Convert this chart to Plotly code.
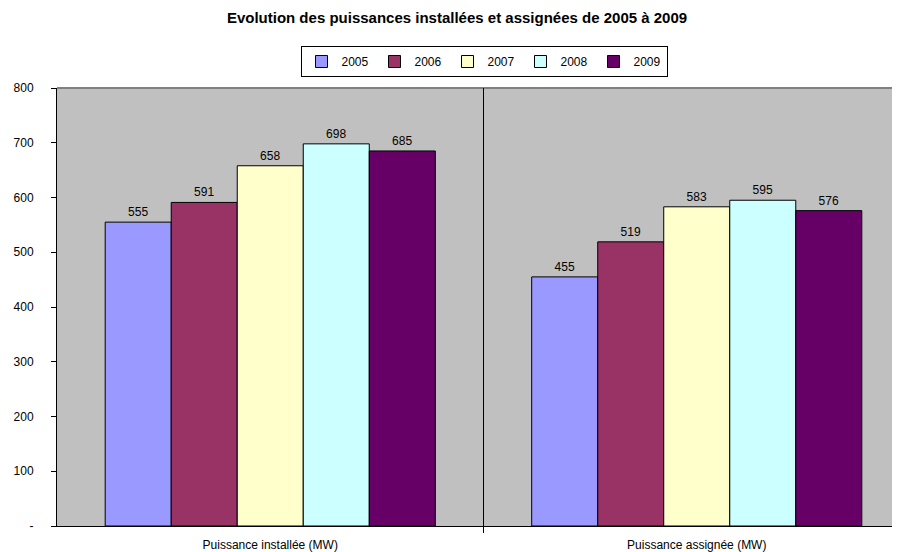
import plotly.graph_objects as go

categories = ["Puissance installée (MW)", "Puissance assignée (MW)"]
years = ["2005", "2006", "2007", "2008", "2009"]
values = {
    "2005": [555, 455],
    "2006": [591, 519],
    "2007": [658, 583],
    "2008": [698, 595],
    "2009": [685, 576],
}
colors = ["#9999FF", "#993366", "#FFFFCC", "#CCFFFF", "#660066"]
tick_vals = [0, 100, 200, 300, 400, 500, 600, 700, 800]
tick_text = ["-", "100", "200", "300", "400", "500", "600", "700", "800"]

FONT = "Liberation Sans, Arial, sans-serif"
OFF = 8  # page body margin offset

fig = go.Figure()
for yr, col in zip(years, colors):
    fig.add_trace(go.Bar(
        name=yr, x=[0, 1], y=values[yr],
        marker=dict(color=col, line=dict(color="black", width=1)),
        text=[str(v) for v in values[yr]], textposition="outside",
        textfont=dict(size=12, color="black", family=FONT),
        cliponaxis=False,
    ))

left = 57 - OFF
fig.update_layout(
    width=900, height=552,
    barmode="group", bargap=0.226, bargroupgap=0,
    plot_bgcolor="#C0C0C0", paper_bgcolor="white",
    margin=dict(l=left, r=0, t=88 - OFF, b=552 - (526 - OFF), autoexpand=False),
    font=dict(family=FONT, size=12, color="black"),
    title=dict(text="<b>Evolution des puissances installées et assignées de 2005 à 2009</b>",
               x=(457 - OFF)/900, xanchor="center", xref="container",
               y=1-(18 - OFF)/552, yanchor="middle", yref="container",
               font=dict(size=15, family=FONT)),
    legend=dict(orientation="h", x=(484 - OFF)/900, xanchor="center", xref="container",
                y=1-(46 - OFF)/552, yanchor="top", yref="container",
                bordercolor="black", borderwidth=1, bgcolor="white",
                font=dict(size=12, family=FONT), itemwidth=30,
                entrywidth=28, entrywidthmode="pixels",
                tracegroupgap=0),
    showlegend=True,
)
fig.update_xaxes(
    range=[-0.5, -0.5 + (900 - left)/426.5], tickvals=[0, 1], ticktext=categories,
    showgrid=False, zeroline=False, showline=True, linecolor="black", linewidth=1,
    ticks="", tickfont=dict(size=12), ticklabelstandoff=8, automargin=False,
)
fig.update_yaxes(
    range=[0, 800], tickvals=tick_vals, ticktext=tick_text,
    showgrid=False, zeroline=False, showline=True, linecolor="black", linewidth=1,
    ticks="outside", ticklen=5, tickcolor="black", tickfont=dict(size=12),
    ticklabelstandoff=15, automargin=False,
)
# top border of plot area
fig.add_shape(type="line", xref="paper", yref="paper", x0=0, x1=1, y0=1, y1=1,
              line=dict(color="#808080", width=2))
# category divider
fig.add_shape(type="line", xref="x", yref="paper", x0=0.5, x1=0.5, y0=-0.016, y1=1,
              line=dict(color="black", width=1))

fig.write_html("out.html")
